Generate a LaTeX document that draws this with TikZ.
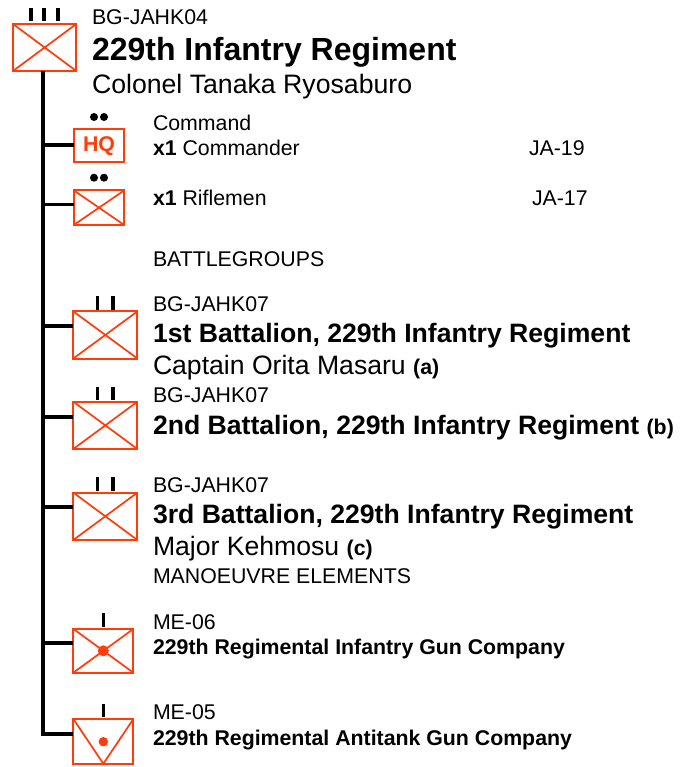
\documentclass[tikz,border=0pt]{standalone}
\usepackage{fontspec}
\setmainfont{Liberation Sans}
\definecolor{unit}{RGB}{255,60,10}
\newcommand{\fs}[1]{\fontsize{#1}{#1}\selectfont}
\tikzset{
 x=1pt,y=-1pt,
 unitbox/.style={draw=unit,line width=2pt,fill=white,inner sep=0pt,outer sep=0pt,rectangle},
 cross/.style={draw=unit,line width=1.7pt},
 link/.style={draw=black,line width=3.7pt},
 tick/.style={draw=black,line width=3.4pt},
 lbl/.style={anchor=base west,inner sep=0pt,outer sep=0pt,text=black},
}
% #1 name, #2 left, #3 top, #4 width, #5 height
\newcommand{\ubox}[5]{\node[unitbox,minimum width=#4pt,minimum height=#5pt] (#1) at (#2+#4/2,#3+#5/2) {};}
\newcommand{\xcross}[1]{\draw[cross] (#1.north west)--(#1.south east) (#1.north east)--(#1.south west);}
\begin{document}
\begin{tikzpicture}
\useasboundingbox (0,0) rectangle (680,767);
\ubox{reg}{13.0}{24.0}{63.3}{47}
\ubox{hq}{74.3}{129.4}{49.4}{32.6}
\ubox{rif}{73.6}{190.3}{50.8}{34.8}
\ubox{bna}{73.3}{311.4}{64.1}{47.1}
\ubox{bnb}{73.3}{401.7}{64.1}{47.3}
\ubox{bnc}{73.3}{492.6}{64.1}{47.4}
\ubox{gun}{73.3}{628.9}{60.1}{43.8}
\ubox{at}{73.3}{718.9}{60.1}{44.8}
\coordinate (end) at (43,734);
% spine and links
\draw[link,line join=miter] (43,71.5) -- (end) -- (at.west |- end);
\coordinate (s1) at (43,144.7); \draw[link] (s1) -- (hq.west |- s1);
\coordinate (s2) at (43,204.5); \draw[link] (s2) -- (rif.west |- s2);
\coordinate (s3) at (43,325.7); \draw[link] (s3) -- (bna.west |- s3);
\coordinate (s4) at (43,416.7); \draw[link] (s4) -- (bnb.west |- s4);
\coordinate (s5) at (43,507); \draw[link] (s5) -- (bnc.west |- s5);
\coordinate (s6) at (43,643); \draw[link] (s6) -- (gun.west |- s6);
% crosses
\xcross{reg}\xcross{rif}\xcross{bna}\xcross{bnb}\xcross{bnc}\xcross{gun}
\draw[cross] (at.north west) -- (at.south) -- (at.north east);
\fill[unit] (gun.center) circle (5.5);
\fill[unit] (103.3,741.7) circle (4.7);
\node[text=unit,font=\fs{21.3}\bfseries,inner sep=0pt] at ([yshift=-0.5pt]hq.center) {HQ};
% echelon marks
\foreach \px in {31,44,58} \draw[tick] (\px,8) -- (\px,21);
\foreach \px in {97.7,113} {\draw[tick] (\px,296) -- (\px,310); \draw[tick] (\px,387) -- (\px,400); \draw[tick] (\px,477) -- (\px,491);}
\draw[tick] (103.5,613) -- (103.5,627);
\draw[tick] (103.5,704) -- (103.5,717);
\foreach \px/\py in {94/117,104/117,94/177.7,104/177.7} \fill[black] (\px,\py) circle (4);
% text
\node[lbl,font=\fs{21.3}] (t1) at (92,25) {BG-JAHK04};
\node[lbl,font=\fs{32}\bfseries] (t2) at (92,60.5) {229th Infantry Regiment};
\node[lbl,font=\fs{26.67}] (t3) at (92,94) {Colonel Tanaka Ryosaburo};
\node[lbl,font=\fs{21.3}] (t4) at (153,130.7) {Command};
\node[lbl,font=\fs{21.3}] (t5) at (153,155.7) {\textbf{x1} Commander};
\node[lbl,font=\fs{21.3}] (t6) at (529,155.7) {JA-19};
\node[lbl,font=\fs{21.3}] (t7) at (153,205.5) {\textbf{x1} Riflemen};
\node[lbl,font=\fs{21.3}] (t8) at (532,205.5) {JA-17};
\node[lbl,font=\fs{21.3}] (t9) at (153,266) {BATTLEGROUPS};
\node[lbl,font=\fs{21.3}] (t10) at (153,311) {BG-JAHK07};
\node[lbl,font=\fs{26.6}\bfseries] (t11) at (153,342) {1st Battalion, 229th Infantry Regiment};
\node[lbl,font=\fs{26.6}] (t12) at (153,374.5) {Captain Orita Masaru {\fs{21.3}\bfseries (a)}};
\node[lbl,font=\fs{21.3}] (t13) at (153,402) {BG-JAHK07};
\node[lbl,font=\fs{26.6}\bfseries] (t14) at (153,434) {2nd Battalion, 229th Infantry Regiment {\fs{21.3}(b)}};
\node[lbl,font=\fs{21.3}] (t15) at (153,492) {BG-JAHK07};
\node[lbl,font=\fs{26.6}\bfseries] (t16) at (153,523) {3rd Battalion, 229th Infantry Regiment};
\node[lbl,font=\fs{26.6}] (t17) at (153,555) {Major Kehmosu {\fs{21.3}\bfseries (c)}};
\node[lbl,font=\fs{21.3}] (t18) at (153,583) {MANOEUVRE ELEMENTS};
\node[lbl,font=\fs{21.3}] (t19) at (153,629) {ME-06};
\node[lbl,font=\fs{21.3}\bfseries] (t20) at (153,654) {229th Regimental Infantry Gun Company};
\node[lbl,font=\fs{21.3}] (t21) at (153,719) {ME-05};
\node[lbl,font=\fs{21.3}\bfseries] (t22) at (153,745) {229th Regimental Antitank Gun Company};
\end{tikzpicture}
\end{document}
